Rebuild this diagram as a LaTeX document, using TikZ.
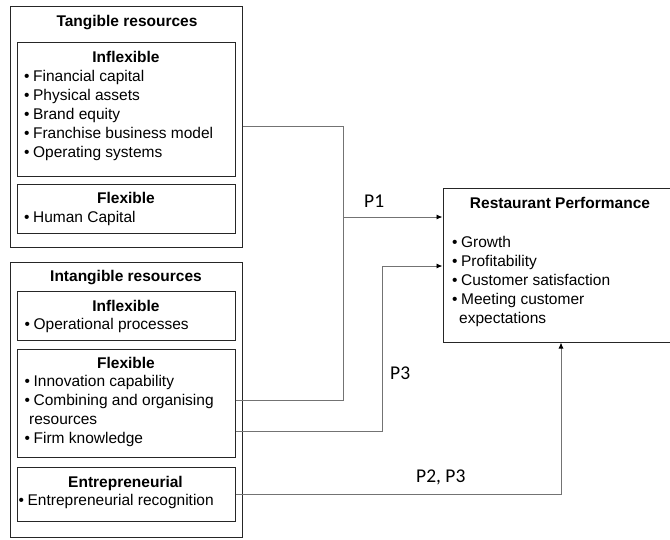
\documentclass[tikz,border=0pt]{standalone}
\usepackage{fontspec}
\setmainfont{Liberation Sans}
\newfontfamily\plabelfont{Carlito}
\usetikzlibrary{arrows.meta}

\newcommand{\itm}{\textbullet\hspace{3.5pt}}

\begin{document}
\begin{tikzpicture}[x=1pt, y=-1pt,
    box/.style={draw=black!85, line width=1pt, rectangle, inner sep=0pt},
    ttl/.style={anchor=base, inner sep=0pt, font=\fontsize{15.5}{19}\selectfont\bfseries},
    lst/.style={anchor=base west, inner sep=0pt, align=left, font=\fontsize{15.5}{19}\selectfont},
    conn/.style={draw=black!55, line width=0.9pt},
    arr/.style={conn, -{Latex[length=6pt, width=5pt, color=black]}},
    plbl/.style={anchor=base west, inner sep=0pt, font=\fontsize{19.5}{22}\plabelfont}]
  \useasboundingbox (0,0) rectangle (670,539);

  % tangible resources (list nodes sit on their last baseline)
  \node (tang) at (126,126.5) [box, minimum width=232, minimum height=241] {};
  \node (infl1) at (126,109) [box, minimum width=218, minimum height=134] {};
  \node (flex1) at (126,208.5) [box, minimum width=218, minimum height=49] {};
  \node (tangT) at (127,26) [ttl] {Tangible resources};
  \node (infl1T) at (126,62) [ttl] {Inflexible};
  \node (infl1L) at (24,157) [lst] {\itm Financial capital\\ \itm Physical assets\\ \itm Brand equity\\ \itm Franchise business model\\ \itm Operating systems};
  \node (flex1T) at (126,203) [ttl] {Flexible};
  \node (flex1L) at (24,222) [lst] {\itm Human Capital};

  % intangible resources
  \node (intang) at (126,399.5) [box, minimum width=232, minimum height=275] {};
  \node (infl2) at (126,315.5) [box, minimum width=218, minimum height=49] {};
  \node (flex2) at (126,403) [box, minimum width=218, minimum height=108] {};
  \node (entre) at (126,494) [box, minimum width=218, minimum height=54] {};
  \node (intangT) at (126,281) [ttl] {Intangible resources};
  \node (infl2T) at (126,311) [ttl] {Inflexible};
  \node (infl2L) at (24.5,329) [lst] {\itm Operational processes};
  \node (flex2T) at (126,368) [ttl] {Flexible};
  \node (flex2L) at (24.5,443) [lst] {\itm Innovation capability\\ \itm Combining and organising\\ \hspace*{4.5pt}resources\\ \itm Firm knowledge};
  \node (entreT) at (125.5,487) [ttl] {Entrepreneurial};
  \node (entreL) at (18.5,505) [lst] {\itm Entrepreneurial recognition};

  % performance
  \node (perf) at (557.5,265) [box, minimum width=229, minimum height=154] {};
  \node (perfT) at (560,208) [ttl] {Restaurant Performance};
  \node (perfL) at (452,323) [lst] {\itm Growth\\ \itm Profitability\\ \itm Customer satisfaction\\ \itm Meeting customer\\ \hspace*{7pt}expectations};

  % connectors
  \coordinate (j1) at (343,217);
  \coordinate (j2) at (382,266);
  \coordinate (j3) at (561,494);
  \draw[conn] (tang.east) -| (j1);
  \draw[conn] ([yshift=3pt]flex2.east) -| (j1);
  \draw[arr] (j1) -- (perf.west |- j1);
  \draw[arr] ([yshift=-28pt]flex2.east) -| (j2) -- (perf.west |- j2);
  \draw[arr] (entre.east) -- (j3) -- (j3 |- perf.south);

  \node (p1) at (364,207) [plbl] {P1};
  \node (p3) at (390,379) [plbl] {P3};
  \node (p23) at (416,482) [plbl] {P2, P3};
\end{tikzpicture}
\end{document}
